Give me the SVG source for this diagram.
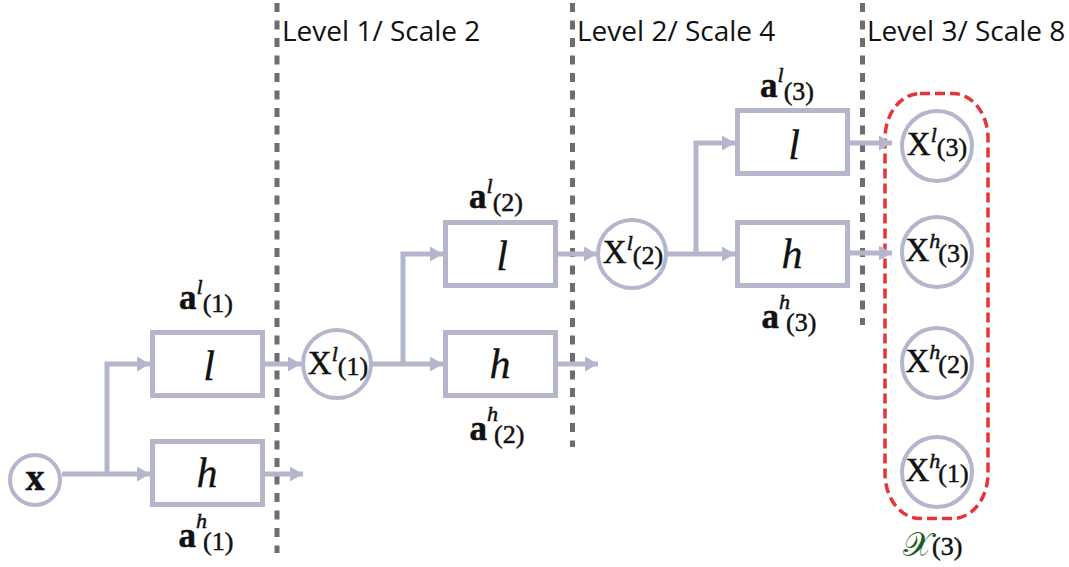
<svg xmlns="http://www.w3.org/2000/svg" width="1069" height="567" viewBox="0 0 1069 567">
<style>
.lvl{font-family:"Open Sans","Noto Sans",sans-serif;font-size:28px;fill:#111}
.div{stroke:#6e6e6e;stroke-width:5;stroke-dasharray:9 8.5;fill:none}
.box{fill:#fff;stroke:#b4b7cc;stroke-width:5}
.circ{fill:#fff;stroke:#b4b7cc;stroke-width:4}
.con{stroke:#b4b7cc;stroke-width:5;fill:none}
.op{font-family:"Liberation Serif","Times New Roman",serif;font-style:italic;font-size:42px;fill:#111;text-anchor:middle;stroke:#111;stroke-width:0.3}
.m{font-family:"Liberation Serif","Times New Roman",serif;fill:#111;text-anchor:middle;stroke:#111;stroke-width:0.5}
.A{font-weight:bold;font-size:35px}
.X{font-size:33px}
.sup{font-style:italic;font-size:22px}
.sub{font-size:26px}
</style>
<defs>
<marker id="ah" markerUnits="userSpaceOnUse" markerWidth="13" markerHeight="15" refX="13" refY="7.5" orient="auto">
<path d="M0,0 L13,7.5 L0,15 z" fill="#b4b7cc"/>
</marker>
</defs>
<g id="dividers">
<line class="div" x1="277" y1="3" x2="277" y2="553"/>
<line class="div" x1="572.5" y1="3" x2="572.5" y2="447"/>
<line class="div" x1="862.5" y1="3" x2="862.5" y2="325"/>
<text class="lvl" x="282" y="41">Level 1/ Scale 2</text>
<text class="lvl" x="577" y="41">Level 2/ Scale 4</text>
<text class="lvl" x="867" y="41">Level 3/ Scale 8</text>
</g>
<g id="group-X3">
<rect x="885" y="93.5" width="103" height="425" rx="35" ry="45" fill="none" stroke="#e8333a" stroke-width="3.5" stroke-dasharray="10 5"/>
<text x="932" y="556" font-family="'DejaVu Serif','Liberation Serif',serif" font-size="34" fill="#1d5e1d" text-anchor="end">𝒳</text>
<text x="932" y="555" class="m sub" style="text-anchor:start">(3)</text>
</g>
<g id="connectors">
<line class="con" x1="62" y1="474" x2="150" y2="474" marker-end="url(#ah)"/>
<polyline class="con" points="107,474 107,364 150,364" marker-end="url(#ah)"/>
<line class="con" x1="265" y1="364" x2="301" y2="364" marker-end="url(#ah)"/>
<line class="con" x1="265" y1="474" x2="303" y2="474" marker-end="url(#ah)"/>
<line class="con" x1="372" y1="364" x2="443" y2="364" marker-end="url(#ah)"/>
<polyline class="con" points="403,364 403,254 443,254" marker-end="url(#ah)"/>
<line class="con" x1="558" y1="254" x2="597" y2="254" marker-end="url(#ah)"/>
<line class="con" x1="558" y1="364" x2="598" y2="364" marker-end="url(#ah)"/>
<line class="con" x1="667" y1="254" x2="735" y2="254" marker-end="url(#ah)"/>
<polyline class="con" points="696,254 696,143 735,143" marker-end="url(#ah)"/>
<line class="con" x1="850" y1="143" x2="892" y2="143" marker-end="url(#ah)"/>
<line class="con" x1="850" y1="253" x2="892" y2="253" marker-end="url(#ah)"/>
</g>
<g id="node-x">
<circle class="circ" cx="35" cy="480" r="25"/>
<text class="m" x="35" y="490" font-weight="bold" font-size="38">x</text>
</g>
<g id="node-l1">
<rect class="box" x="152.5" y="332.5" width="110" height="63"/>
<text class="op" x="209" y="380">l</text>
<text class="m" x="206" y="309"><tspan class="A">a</tspan><tspan class="sup" dy="-15">l</tspan><tspan class="sub" dy="18">(1)</tspan></text>
</g>
<g id="node-h1">
<rect class="box" x="152.5" y="441.5" width="110" height="63"/>
<text class="op" x="207" y="487">h</text>
<text class="m" x="206" y="547"><tspan class="A">a</tspan><tspan class="sup" dy="-19">h</tspan><tspan class="sub" dx="-4" dy="22">(1)</tspan></text>
</g>
<g id="node-xl1">
<circle class="circ" cx="337" cy="364" r="34"/>
<text class="m" x="338" y="374"><tspan class="X">X</tspan><tspan class="sup" dy="-13">l</tspan><tspan class="sub" dy="14">(1)</tspan></text>
</g>
<g id="node-l2">
<rect class="box" x="445.5" y="222.5" width="110" height="63"/>
<text class="op" x="502" y="270">l</text>
<text class="m" x="496" y="208"><tspan class="A">a</tspan><tspan class="sup" dy="-15">l</tspan><tspan class="sub" dy="18">(2)</tspan></text>
</g>
<g id="node-h2">
<rect class="box" x="445.5" y="332.5" width="110" height="63"/>
<text class="op" x="500" y="378">h</text>
<text class="m" x="497" y="440"><tspan class="A">a</tspan><tspan class="sup" dy="-19">h</tspan><tspan class="sub" dx="-4" dy="22">(2)</tspan></text>
</g>
<g id="node-xl2">
<circle class="circ" cx="632" cy="254" r="34"/>
<text class="m" x="633" y="263"><tspan class="X">X</tspan><tspan class="sup" dy="-13">l</tspan><tspan class="sub" dy="14">(2)</tspan></text>
</g>
<g id="node-l3">
<rect class="box" x="737.5" y="110.5" width="110" height="63"/>
<text class="op" x="794" y="159">l</text>
<text class="m" x="787" y="97"><tspan class="A">a</tspan><tspan class="sup" dy="-15">l</tspan><tspan class="sub" dy="18">(3)</tspan></text>
</g>
<g id="node-h3">
<rect class="box" x="737.5" y="222.5" width="110" height="63"/>
<text class="op" x="792" y="268">h</text>
<text class="m" x="789" y="328"><tspan class="A">a</tspan><tspan class="sup" dy="-19">h</tspan><tspan class="sub" dx="-4" dy="22">(3)</tspan></text>
</g>
<g id="node-xl3">
<circle class="circ" cx="937" cy="146" r="35"/>
<text class="m" x="937" y="155"><tspan class="X">X</tspan><tspan class="sup" dy="-13">l</tspan><tspan class="sub" dy="14">(3)</tspan></text>
</g>
<g id="node-xh3">
<circle class="circ" cx="937" cy="252" r="35"/>
<text class="m" x="937" y="261"><tspan class="X">X</tspan><tspan class="sup" dy="-13">h</tspan><tspan class="sub" dx="-2" dy="14">(3)</tspan></text>
</g>
<g id="node-xh2">
<circle class="circ" cx="937" cy="363" r="35"/>
<text class="m" x="937" y="372"><tspan class="X">X</tspan><tspan class="sup" dy="-13">h</tspan><tspan class="sub" dx="-2" dy="14">(2)</tspan></text>
</g>
<g id="node-xh1">
<circle class="circ" cx="937" cy="472" r="35"/>
<text class="m" x="937" y="481"><tspan class="X">X</tspan><tspan class="sup" dy="-13">h</tspan><tspan class="sub" dx="-2" dy="14">(1)</tspan></text>
</g>
</svg>
